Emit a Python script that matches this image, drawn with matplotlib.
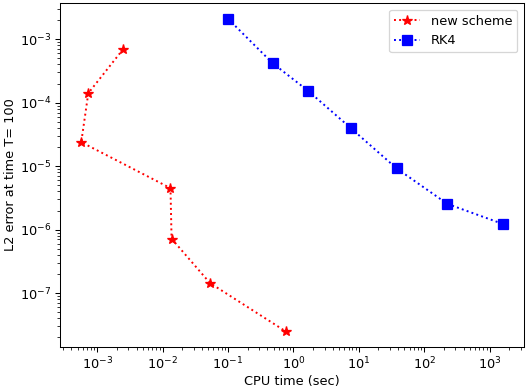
import matplotlib
matplotlib.use('Agg')
import matplotlib.pyplot as plt

new_time = [2.5e-3, 7.3e-4, 5.7e-4, 1.32e-2, 1.37e-2, 5.3e-2, 0.76]
new_err = [7.0e-4, 1.41e-4, 2.39e-5, 4.5e-6, 7.2e-7, 1.44e-7, 2.5e-8]

rk4_time = [0.1, 0.48, 1.7, 7.5, 38, 227, 1590]
rk4_err = [2.1e-3, 4.2e-4, 1.52e-4, 4.0e-5, 9.2e-6, 2.54e-6, 1.23e-6]

dpi = 93
fig = plt.figure(figsize=(528 / dpi, 392 / dpi), dpi=dpi)
ax = fig.add_axes([0.114, 0.115, 0.878, 0.877])

ax.loglog(new_time, new_err, marker='*', linestyle=':', color='r', markersize=7.5, label='new scheme')
ax.loglog(rk4_time, rk4_err, marker='s', linestyle=':', color='b', markersize=7, label='RK4')

ax.set_xlabel('CPU time (sec)', labelpad=2)
ax.set_ylabel('L2 error at time T= 100', labelpad=2)
ax.legend(loc='upper right')

fig.savefig('out.png', dpi=dpi)
